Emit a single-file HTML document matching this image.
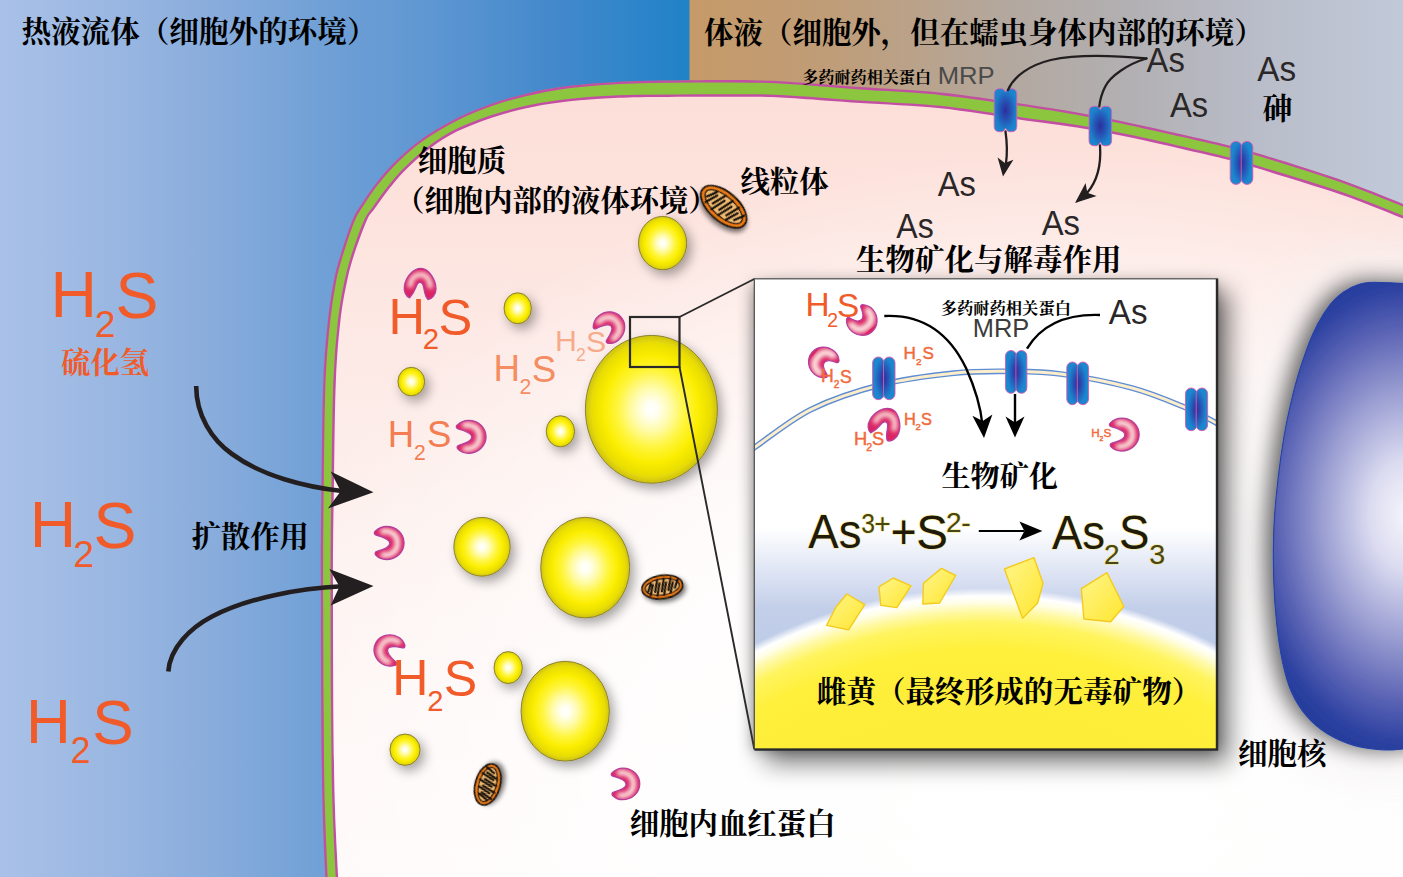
<!DOCTYPE html>
<html lang="zh-CN"><head><meta charset="utf-8"><title>生物矿化与解毒作用</title>
<style>
html,body{margin:0;padding:0;background:#fff;}
body{width:1403px;height:877px;overflow:hidden;}
svg{display:block}
.cjk text,text.cjk{font-family:"Liberation Serif","Noto Serif CJK SC",serif;font-weight:bold;}
.sans text,text.sans{font-family:"Liberation Sans",sans-serif;}
</style></head><body>
<svg width="1403" height="877" viewBox="0 0 1403 877">
<defs>
<linearGradient id="gL" x1="0" x2="1" y1="0" y2="0">
<stop offset="0" stop-color="#a9c1e8"/><stop offset="0.15" stop-color="#9bb8e2"/><stop offset="0.3" stop-color="#8aaddc"/><stop offset="0.47" stop-color="#70a0d6"/><stop offset="0.62" stop-color="#5f97d2"/><stop offset="0.8" stop-color="#4489cc"/><stop offset="1" stop-color="#2082c7"/>
</linearGradient>
<linearGradient id="gR" x1="0" x2="1" y1="0" y2="0">
<stop offset="0" stop-color="#c69a69"/><stop offset="0.2" stop-color="#bf9d78"/><stop offset="0.45" stop-color="#b3a89f"/><stop offset="0.62" stop-color="#b2b0b3"/><stop offset="0.8" stop-color="#b9bdc9"/><stop offset="1" stop-color="#c1c9d9"/>
</linearGradient>
<linearGradient id="gCell" x1="0" x2="0" y1="0" y2="1">
<stop offset="0" stop-color="#fddfd9"/><stop offset="0.12" stop-color="#fde2dc"/><stop offset="0.3" stop-color="#fde9e5"/><stop offset="0.5" stop-color="#fdefec"/><stop offset="0.75" stop-color="#fef5f3"/><stop offset="1" stop-color="#fffaf9"/>
</linearGradient>
<radialGradient id="gWhite" cx="0.68" cy="0.86" r="0.78">
<stop offset="0" stop-color="#fff" stop-opacity="1"/><stop offset="0.5" stop-color="#fff" stop-opacity="0.85"/><stop offset="0.8" stop-color="#fff" stop-opacity="0.35"/><stop offset="1" stop-color="#fff" stop-opacity="0"/>
</radialGradient>
<radialGradient id="gY" cx="0.5" cy="0.5" r="0.5">
<stop offset="0" stop-color="#ffffff"/><stop offset="0.1" stop-color="#fffff2"/><stop offset="0.3" stop-color="#fffba6"/><stop offset="0.52" stop-color="#fff53c"/><stop offset="0.72" stop-color="#fbee02"/><stop offset="0.9" stop-color="#e9dd06"/><stop offset="1" stop-color="#cdc114"/>
</radialGradient>
<radialGradient id="gCh" cx="0.5" cy="0.5" r="0.58">
<stop offset="0" stop-color="#2b2f9c"/><stop offset="0.4" stop-color="#2653b5"/><stop offset="0.8" stop-color="#1d80cb"/><stop offset="1" stop-color="#1b86cf"/>
</radialGradient>
<radialGradient id="gChL" cx="1" cy="0.5" r="0.5" gradientTransform="translate(1,0.5) scale(1.7,1) translate(-1,-0.5)">
<stop offset="0" stop-color="#3a2a96"/><stop offset="0.35" stop-color="#2847ae"/><stop offset="1" stop-color="#1c86cf"/>
</radialGradient>
<radialGradient id="gChR" cx="0" cy="0.5" r="0.5" gradientTransform="translate(0,0.5) scale(1.7,1) translate(0,-0.5)">
<stop offset="0" stop-color="#3a2a96"/><stop offset="0.35" stop-color="#2847ae"/><stop offset="1" stop-color="#1c86cf"/>
</radialGradient>
<radialGradient id="gCres2" cx="0.66" cy="0.5" r="0.56">
<stop offset="0" stop-color="#f7d6d2"/><stop offset="0.35" stop-color="#efa3aa"/><stop offset="0.75" stop-color="#e03c70"/><stop offset="1" stop-color="#d81e60"/>
</radialGradient>
<radialGradient id="gCres" cx="0.5" cy="0.36" r="0.58">
<stop offset="0" stop-color="#f7d0cc"/><stop offset="0.4" stop-color="#ee9aa3"/><stop offset="0.8" stop-color="#df346c"/><stop offset="1" stop-color="#d4215f"/>
</radialGradient>
<radialGradient id="gNuc" gradientUnits="userSpaceOnUse" cx="1408" cy="515" r="245" gradientTransform="translate(1408,515) scale(0.7,1) translate(-1408,-515)">
<stop offset="0" stop-color="#f6f6fc"/><stop offset="0.22" stop-color="#dcdcf1"/><stop offset="0.5" stop-color="#9b9fd2"/><stop offset="0.74" stop-color="#6068b7"/><stop offset="0.92" stop-color="#2f43a2"/><stop offset="1" stop-color="#253c9c"/>
</radialGradient>
<linearGradient id="gInset" x1="0" x2="0" y1="0" y2="1">
<stop offset="0" stop-color="#ffffff"/><stop offset="0.53" stop-color="#ffffff"/><stop offset="0.62" stop-color="#dfe5f4"/><stop offset="0.70" stop-color="#c3cfe9"/><stop offset="0.82" stop-color="#bccae8"/><stop offset="1" stop-color="#c8d4ec"/>
</linearGradient>
<radialGradient id="gDome" gradientUnits="userSpaceOnUse" cx="985" cy="1092" r="504">
<stop offset="0" stop-color="#fcea36"/><stop offset="0.72" stop-color="#fdec38"/><stop offset="0.88" stop-color="#fff03c"/><stop offset="0.93" stop-color="#fff45e"/><stop offset="0.955" stop-color="#fff9a8"/><stop offset="0.972" stop-color="#fffee8"/><stop offset="0.984" stop-color="#ffffff"/><stop offset="1" stop-color="#ffffff" stop-opacity="0"/>
</radialGradient>
<linearGradient id="gCry" x1="0" x2="1" y1="0" y2="1">
<stop offset="0" stop-color="#fff58a"/><stop offset="1" stop-color="#ffe630"/>
</linearGradient>
<filter id="shY" x="-100%" y="-100%" width="300%" height="300%">
<feGaussianBlur in="SourceAlpha" stdDeviation="6"/><feOffset dx="4" dy="5"/><feComponentTransfer><feFuncA type="linear" slope="0.36"/></feComponentTransfer><feMerge><feMergeNode/><feMergeNode in="SourceGraphic"/></feMerge>
</filter>
<filter id="shS" x="-100%" y="-100%" width="300%" height="300%">
<feGaussianBlur in="SourceAlpha" stdDeviation="2.5"/><feOffset dx="2" dy="3"/><feComponentTransfer><feFuncA type="linear" slope="0.55"/></feComponentTransfer><feMerge><feMergeNode/><feMergeNode in="SourceGraphic"/></feMerge>
</filter>
<filter id="glowBox" x="-10%" y="-10%" width="120%" height="120%"><feGaussianBlur stdDeviation="7"/></filter>
<filter id="shBox" x="-12%" y="-12%" width="140%" height="140%">
<feGaussianBlur in="SourceAlpha" stdDeviation="13"/><feOffset dx="11" dy="13"/><feComponentTransfer><feFuncA type="linear" slope="0.55"/></feComponentTransfer><feMerge><feMergeNode/><feMergeNode in="SourceGraphic"/></feMerge>
</filter>
<filter id="glowNuc" x="-80%" y="-30%" width="260%" height="160%"><feGaussianBlur stdDeviation="28"/></filter>
<filter id="shNuc" x="-40%" y="-20%" width="180%" height="140%">
<feGaussianBlur in="SourceAlpha" stdDeviation="11"/><feOffset dx="-7" dy="-1"/><feComponentTransfer><feFuncA type="linear" slope="0.62"/></feComponentTransfer><feMerge><feMergeNode/><feMergeNode in="SourceGraphic"/></feMerge>
</filter>

<filter id="blurC" x="-30%" y="-30%" width="160%" height="160%"><feGaussianBlur stdDeviation="2.1"/></filter>
<clipPath id="cpC1"><path d="M5.6,29.5 C2,28 -0.5,23 0.4,18 C1.5,9 9,0 17,0 C25,0 32,12 32,20.5 C32,26 28,31 24,31.2 C21.5,29 20.5,24 19.7,19 C19,15.5 17,14 15.8,14.1 C14,14.3 12.5,17 12,18.8 C11,21.5 9,26 5.6,29.5 Z"/></clipPath><clipPath id="cpC2"><path d="M2.4,8.5 C0.6,8 0.2,6 1.6,4.8 C4.8,1.8 8.8,0 13,0 C23,0 30.5,7.4 30.5,16.5 C30.5,25.6 22.6,33 12.6,33 C8.6,33 5,31.4 2.4,28.8 C1,27.4 1.4,25.4 3.2,25 C9,23.4 16.3,21.4 16.3,16.8 C16.3,12.4 9,10.2 2.4,8.5 Z"/></clipPath>
<g id="cres"><path d="M5.6,29.5 C2,28 -0.5,23 0.4,18 C1.5,9 9,0 17,0 C25,0 32,12 32,20.5 C32,26 28,31 24,31.2 C21.5,29 20.5,24 19.7,19 C19,15.5 17,14 15.8,14.1 C14,14.3 12.5,17 12,18.8 C11,21.5 9,26 5.6,29.5 Z" fill="#dc2464"/><g clip-path="url(#cpC1)"><path d="M6,19 C6.5,10 11,6.2 16.5,6.2 C22,6.2 26,10.5 26.5,20" stroke="#f9dcd8" stroke-width="5" fill="none" filter="url(#blurC)"/></g><path d="M5.6,29.5 C2,28 -0.5,23 0.4,18 C1.5,9 9,0 17,0 C25,0 32,12 32,20.5 C32,26 28,31 24,31.2 C21.5,29 20.5,24 19.7,19 C19,15.5 17,14 15.8,14.1 C14,14.3 12.5,17 12,18.8 C11,21.5 9,26 5.6,29.5 Z" fill="none" stroke="#b4409e" stroke-width="1.3"/></g>
<clipPath id="cpC3"><path d="M2.4,8.5 C0.6,8 0.2,6 1.6,4.8 C4.8,1.8 8.8,0 13,0 C23,0 30.5,7.4 30.5,16.5 C30.5,25.6 22.6,33 12.6,33 C8.6,33 5,31.4 2.4,28.8 C1,27.4 1.4,25.4 3.2,25 C8,23.6 13,21.2 13,16.8 C13,12.6 8,10.2 2.4,8.5 Z"/></clipPath><g id="cres3"><path d="M2.4,8.5 C0.6,8 0.2,6 1.6,4.8 C4.8,1.8 8.8,0 13,0 C23,0 30.5,7.4 30.5,16.5 C30.5,25.6 22.6,33 12.6,33 C8.6,33 5,31.4 2.4,28.8 C1,27.4 1.4,25.4 3.2,25 C8,23.6 13,21.2 13,16.8 C13,12.6 8,10.2 2.4,8.5 Z" fill="#dc2464"/><g clip-path="url(#cpC3)"><path d="M7,5.6 C10,4.4 12.5,4.4 15,5 C20,6.6 22.5,11 22.5,16.5 C22.5,22 20,26.6 15,28.2 C12.5,28.8 10,28.8 7.5,27.8" stroke="#fbe4e0" stroke-width="7.5" fill="none" filter="url(#blurC)"/></g><path d="M2.4,8.5 C0.6,8 0.2,6 1.6,4.8 C4.8,1.8 8.8,0 13,0 C23,0 30.5,7.4 30.5,16.5 C30.5,25.6 22.6,33 12.6,33 C8.6,33 5,31.4 2.4,28.8 C1,27.4 1.4,25.4 3.2,25 C8,23.6 13,21.2 13,16.8 C13,12.6 8,10.2 2.4,8.5 Z" fill="none" stroke="#b4409e" stroke-width="1.3"/></g>
<g id="cres2"><path d="M2.4,8.5 C0.6,8 0.2,6 1.6,4.8 C4.8,1.8 8.8,0 13,0 C23,0 30.5,7.4 30.5,16.5 C30.5,25.6 22.6,33 12.6,33 C8.6,33 5,31.4 2.4,28.8 C1,27.4 1.4,25.4 3.2,25 C9,23.4 16.3,21.4 16.3,16.8 C16.3,12.4 9,10.2 2.4,8.5 Z" fill="#dc2464"/><g clip-path="url(#cpC2)"><path d="M7,5.6 C10,4.4 12.5,4.4 15,5 C21,6.6 24,11 24,16.5 C24,22 21,26.6 15,28.2 C12.5,28.8 10,28.8 7.5,27.8" stroke="#fbe4e0" stroke-width="5.8" fill="none" filter="url(#blurC)"/></g><path d="M2.4,8.5 C0.6,8 0.2,6 1.6,4.8 C4.8,1.8 8.8,0 13,0 C23,0 30.5,7.4 30.5,16.5 C30.5,25.6 22.6,33 12.6,33 C8.6,33 5,31.4 2.4,28.8 C1,27.4 1.4,25.4 3.2,25 C9,23.4 16.3,21.4 16.3,16.8 C16.3,12.4 9,10.2 2.4,8.5 Z" fill="none" stroke="#b4409e" stroke-width="1.3"/></g>
<clipPath id="clipInset"><rect x="754.3" y="278.8" width="463.2" height="470.4"/></clipPath>
</defs>
<rect x="0" y="0" width="689.5" height="877" fill="url(#gL)"/><rect x="688" y="0" width="3" height="877" fill="#2082c7"/>
<rect x="689.5" y="0" width="713.5" height="877" fill="url(#gR)"/>
<clipPath id="cpOuter"><path d="M326.5,900.0 C326.3,896.2 326.1,897.5 325.3,877.0 C324.5,856.5 322.6,825.7 321.9,777.0 C321.1,728.3 320.9,634.5 320.8,585.0 C320.7,535.5 321.1,514.2 321.5,480.0 C321.9,445.8 322.2,406.7 323.3,380.0 C324.4,353.3 326.2,336.7 328.0,320.0 C329.8,303.3 331.8,291.3 334.0,280.0 C336.2,268.7 338.4,262.0 341.5,252.0 C344.6,242.0 349.2,227.8 352.5,220.0 C355.8,212.2 357.0,211.3 361.0,205.1 C365.0,198.9 370.4,190.4 376.4,182.9 C382.4,175.4 389.3,167.2 397.0,159.8 C404.7,152.4 412.6,145.3 422.6,138.4 C432.6,131.5 445.4,124.0 456.8,118.2 C468.2,112.5 479.6,108.0 491.0,103.9 C502.4,99.9 513.8,96.7 525.3,93.9 C536.8,91.1 547.5,88.9 560.0,87.1 C572.5,85.3 586.7,84.0 600.0,83.0 C613.3,82.0 623.3,81.4 640.0,80.9 C656.7,80.4 680.0,80.3 700.0,80.2 C720.0,80.1 743.3,80.0 760.0,80.4 C776.7,80.8 783.3,81.4 800.0,82.5 C816.7,83.6 836.7,85.4 860.0,87.1 C883.3,88.8 913.6,89.9 940.0,92.6 C966.4,95.3 995.5,99.9 1018.6,103.3 C1041.7,106.7 1059.9,109.5 1078.4,112.8 C1096.9,116.1 1112.6,119.4 1129.7,123.0 C1146.8,126.6 1164.5,130.6 1181.0,134.3 C1197.5,138.1 1215.8,142.2 1229.0,145.5 C1242.2,148.8 1241.5,148.3 1260.0,154.0 C1278.5,159.7 1316.2,171.2 1340.0,179.6 C1363.8,187.9 1386.3,197.4 1403.0,204.1 C1419.7,210.8 1433.8,217.3 1440.0,220.0 L1440,900 Z"/></clipPath>
<path d="M326.5,900.0 C326.3,896.2 326.1,897.5 325.3,877.0 C324.5,856.5 322.6,825.7 321.9,777.0 C321.1,728.3 320.9,634.5 320.8,585.0 C320.7,535.5 321.1,514.2 321.5,480.0 C321.9,445.8 322.2,406.7 323.3,380.0 C324.4,353.3 326.2,336.7 328.0,320.0 C329.8,303.3 331.8,291.3 334.0,280.0 C336.2,268.7 338.4,262.0 341.5,252.0 C344.6,242.0 349.2,227.8 352.5,220.0 C355.8,212.2 357.0,211.3 361.0,205.1 C365.0,198.9 370.4,190.4 376.4,182.9 C382.4,175.4 389.3,167.2 397.0,159.8 C404.7,152.4 412.6,145.3 422.6,138.4 C432.6,131.5 445.4,124.0 456.8,118.2 C468.2,112.5 479.6,108.0 491.0,103.9 C502.4,99.9 513.8,96.7 525.3,93.9 C536.8,91.1 547.5,88.9 560.0,87.1 C572.5,85.3 586.7,84.0 600.0,83.0 C613.3,82.0 623.3,81.4 640.0,80.9 C656.7,80.4 680.0,80.3 700.0,80.2 C720.0,80.1 743.3,80.0 760.0,80.4 C776.7,80.8 783.3,81.4 800.0,82.5 C816.7,83.6 836.7,85.4 860.0,87.1 C883.3,88.8 913.6,89.9 940.0,92.6 C966.4,95.3 995.5,99.9 1018.6,103.3 C1041.7,106.7 1059.9,109.5 1078.4,112.8 C1096.9,116.1 1112.6,119.4 1129.7,123.0 C1146.8,126.6 1164.5,130.6 1181.0,134.3 C1197.5,138.1 1215.8,142.2 1229.0,145.5 C1242.2,148.8 1241.5,148.3 1260.0,154.0 C1278.5,159.7 1316.2,171.2 1340.0,179.6 C1363.8,187.9 1386.3,197.4 1403.0,204.1 C1419.7,210.8 1433.8,217.3 1440.0,220.0 L1440,900 Z" fill="#8cc63f" stroke="#c24fa3" stroke-width="4.6" clip-path="url(#cpOuter)"/>
<path d="M339.5,900.0 C339.3,896.2 339.1,897.5 338.2,877.0 C337.3,856.5 335.1,825.7 334.2,777.0 C333.3,728.3 333.0,634.5 333.0,585.0 C333.0,535.5 333.5,514.2 334.0,480.0 C334.5,445.8 334.8,406.7 335.9,380.0 C337.0,353.3 338.6,336.7 340.5,320.0 C342.4,303.3 344.9,291.3 347.3,280.0 C349.7,268.7 351.7,262.0 355.0,252.0 C358.3,242.0 363.7,227.2 367.0,220.0 C370.3,212.8 371.1,213.7 374.7,208.6 C378.3,203.5 383.3,196.1 388.4,189.7 C393.5,183.3 398.6,176.8 405.5,170.0 C412.4,163.2 420.9,155.1 429.5,148.7 C438.1,142.3 446.6,136.7 456.8,131.6 C467.1,126.5 479.6,121.8 491.0,117.9 C502.4,114.1 513.8,111.1 525.3,108.5 C536.8,105.9 547.5,104.1 560.0,102.5 C572.5,100.9 586.7,99.7 600.0,98.8 C613.3,97.9 623.3,97.5 640.0,97.2 C656.7,96.9 680.0,96.9 700.0,96.8 C720.0,96.7 743.3,96.5 760.0,96.8 C776.7,97.1 783.3,97.8 800.0,98.8 C816.7,99.8 836.7,101.5 860.0,103.1 C883.3,104.7 913.6,105.5 940.0,108.2 C966.4,110.9 995.5,116.1 1018.6,119.4 C1041.7,122.7 1059.9,124.8 1078.4,127.8 C1096.9,130.8 1112.6,133.8 1129.7,137.3 C1146.8,140.8 1164.5,145.0 1181.0,148.8 C1197.5,152.6 1215.8,156.6 1229.0,160.0 C1242.2,163.4 1241.5,163.4 1260.0,169.1 C1278.5,174.8 1316.2,186.0 1340.0,194.2 C1363.8,202.4 1386.3,211.8 1403.0,218.5 C1419.7,225.2 1433.8,231.8 1440.0,234.4 L1440,900 Z" fill="none" stroke="#c24fa3" stroke-width="5"/>
<path d="M339.5,900.0 C339.3,896.2 339.1,897.5 338.2,877.0 C337.3,856.5 335.1,825.7 334.2,777.0 C333.3,728.3 333.0,634.5 333.0,585.0 C333.0,535.5 333.5,514.2 334.0,480.0 C334.5,445.8 334.8,406.7 335.9,380.0 C337.0,353.3 338.6,336.7 340.5,320.0 C342.4,303.3 344.9,291.3 347.3,280.0 C349.7,268.7 351.7,262.0 355.0,252.0 C358.3,242.0 363.7,227.2 367.0,220.0 C370.3,212.8 371.1,213.7 374.7,208.6 C378.3,203.5 383.3,196.1 388.4,189.7 C393.5,183.3 398.6,176.8 405.5,170.0 C412.4,163.2 420.9,155.1 429.5,148.7 C438.1,142.3 446.6,136.7 456.8,131.6 C467.1,126.5 479.6,121.8 491.0,117.9 C502.4,114.1 513.8,111.1 525.3,108.5 C536.8,105.9 547.5,104.1 560.0,102.5 C572.5,100.9 586.7,99.7 600.0,98.8 C613.3,97.9 623.3,97.5 640.0,97.2 C656.7,96.9 680.0,96.9 700.0,96.8 C720.0,96.7 743.3,96.5 760.0,96.8 C776.7,97.1 783.3,97.8 800.0,98.8 C816.7,99.8 836.7,101.5 860.0,103.1 C883.3,104.7 913.6,105.5 940.0,108.2 C966.4,110.9 995.5,116.1 1018.6,119.4 C1041.7,122.7 1059.9,124.8 1078.4,127.8 C1096.9,130.8 1112.6,133.8 1129.7,137.3 C1146.8,140.8 1164.5,145.0 1181.0,148.8 C1197.5,152.6 1215.8,156.6 1229.0,160.0 C1242.2,163.4 1241.5,163.4 1260.0,169.1 C1278.5,174.8 1316.2,186.0 1340.0,194.2 C1363.8,202.4 1386.3,211.8 1403.0,218.5 C1419.7,225.2 1433.8,231.8 1440.0,234.4 L1440,900 Z" fill="url(#gCell)"/>
<clipPath id="cpInner"><path d="M339.5,900.0 C339.3,896.2 339.1,897.5 338.2,877.0 C337.3,856.5 335.1,825.7 334.2,777.0 C333.3,728.3 333.0,634.5 333.0,585.0 C333.0,535.5 333.5,514.2 334.0,480.0 C334.5,445.8 334.8,406.7 335.9,380.0 C337.0,353.3 338.6,336.7 340.5,320.0 C342.4,303.3 344.9,291.3 347.3,280.0 C349.7,268.7 351.7,262.0 355.0,252.0 C358.3,242.0 363.7,227.2 367.0,220.0 C370.3,212.8 371.1,213.7 374.7,208.6 C378.3,203.5 383.3,196.1 388.4,189.7 C393.5,183.3 398.6,176.8 405.5,170.0 C412.4,163.2 420.9,155.1 429.5,148.7 C438.1,142.3 446.6,136.7 456.8,131.6 C467.1,126.5 479.6,121.8 491.0,117.9 C502.4,114.1 513.8,111.1 525.3,108.5 C536.8,105.9 547.5,104.1 560.0,102.5 C572.5,100.9 586.7,99.7 600.0,98.8 C613.3,97.9 623.3,97.5 640.0,97.2 C656.7,96.9 680.0,96.9 700.0,96.8 C720.0,96.7 743.3,96.5 760.0,96.8 C776.7,97.1 783.3,97.8 800.0,98.8 C816.7,99.8 836.7,101.5 860.0,103.1 C883.3,104.7 913.6,105.5 940.0,108.2 C966.4,110.9 995.5,116.1 1018.6,119.4 C1041.7,122.7 1059.9,124.8 1078.4,127.8 C1096.9,130.8 1112.6,133.8 1129.7,137.3 C1146.8,140.8 1164.5,145.0 1181.0,148.8 C1197.5,152.6 1215.8,156.6 1229.0,160.0 C1242.2,163.4 1241.5,163.4 1260.0,169.1 C1278.5,174.8 1316.2,186.0 1340.0,194.2 C1363.8,202.4 1386.3,211.8 1403.0,218.5 C1419.7,225.2 1433.8,231.8 1440.0,234.4 L1440,900 Z"/></clipPath>
<g clip-path="url(#cpInner)"><rect x="330" y="80" width="1080" height="800" fill="url(#gWhite)"/></g>
<g clip-path="url(#cpInner)"><path d="M1445.0,285.0 C1438.0,284.7 1415.7,283.7 1403.0,283.3 C1390.3,282.9 1377.3,281.8 1368.6,282.5 C1359.9,283.2 1356.2,285.2 1350.8,287.8 C1345.4,290.4 1340.5,294.0 1336.0,298.2 C1331.5,302.4 1328.0,306.8 1324.1,313.0 C1320.1,319.2 1316.2,326.1 1312.3,335.2 C1308.3,344.3 1303.9,356.9 1300.4,367.8 C1296.9,378.7 1294.2,389.0 1291.5,400.4 C1288.8,411.8 1286.3,423.1 1284.1,436.0 C1281.9,448.9 1279.9,462.7 1278.2,477.5 C1276.5,492.3 1274.8,508.0 1274.0,525.0 C1273.2,542.0 1273.2,562.8 1273.7,579.3 C1274.2,595.8 1275.2,610.0 1276.7,623.8 C1278.2,637.6 1280.1,650.9 1282.6,662.3 C1285.1,673.7 1287.5,683.1 1291.5,692.0 C1295.5,700.9 1300.4,708.8 1306.3,715.7 C1312.2,722.6 1319.1,728.6 1327.0,733.5 C1334.9,738.4 1344.4,742.6 1353.8,745.3 C1363.2,748.0 1375.2,749.2 1383.4,749.8 C1391.6,750.4 1392.7,749.9 1403.0,748.9 C1413.3,747.9 1438.0,744.8 1445.0,744.0 Z" fill="#f4f2f2" stroke="#f4f2f2" stroke-width="50" filter="url(#glowNuc)" opacity="0.9"/></g>
<g clip-path="url(#cpInner)"><path d="M1445.0,285.0 C1438.0,284.7 1415.7,283.7 1403.0,283.3 C1390.3,282.9 1377.3,281.8 1368.6,282.5 C1359.9,283.2 1356.2,285.2 1350.8,287.8 C1345.4,290.4 1340.5,294.0 1336.0,298.2 C1331.5,302.4 1328.0,306.8 1324.1,313.0 C1320.1,319.2 1316.2,326.1 1312.3,335.2 C1308.3,344.3 1303.9,356.9 1300.4,367.8 C1296.9,378.7 1294.2,389.0 1291.5,400.4 C1288.8,411.8 1286.3,423.1 1284.1,436.0 C1281.9,448.9 1279.9,462.7 1278.2,477.5 C1276.5,492.3 1274.8,508.0 1274.0,525.0 C1273.2,542.0 1273.2,562.8 1273.7,579.3 C1274.2,595.8 1275.2,610.0 1276.7,623.8 C1278.2,637.6 1280.1,650.9 1282.6,662.3 C1285.1,673.7 1287.5,683.1 1291.5,692.0 C1295.5,700.9 1300.4,708.8 1306.3,715.7 C1312.2,722.6 1319.1,728.6 1327.0,733.5 C1334.9,738.4 1344.4,742.6 1353.8,745.3 C1363.2,748.0 1375.2,749.2 1383.4,749.8 C1391.6,750.4 1392.7,749.9 1403.0,748.9 C1413.3,747.9 1438.0,744.8 1445.0,744.0 Z" fill="url(#gNuc)" stroke="#2743a3" stroke-width="1.2" filter="url(#shNuc)"/></g>
<ellipse cx="662.6" cy="243.1" rx="24.1" ry="26.7" fill="url(#gY)" stroke="#857a2a" stroke-width="0.9" filter="url(#shY)"/>
<ellipse cx="517.7" cy="308.3" rx="13.7" ry="15.5" fill="url(#gY)" stroke="#857a2a" stroke-width="0.9" filter="url(#shY)"/>
<ellipse cx="411.3" cy="381.6" rx="13.4" ry="14.3" fill="url(#gY)" stroke="#857a2a" stroke-width="0.9" filter="url(#shY)"/>
<ellipse cx="560.4" cy="431.3" rx="14.2" ry="15.6" fill="url(#gY)" stroke="#857a2a" stroke-width="0.9" filter="url(#shY)"/>
<ellipse cx="651.4" cy="409.3" rx="66" ry="73.9" fill="url(#gY)" stroke="#857a2a" stroke-width="0.9" filter="url(#shY)"/>
<ellipse cx="482" cy="546.8" rx="28.2" ry="29.4" fill="url(#gY)" stroke="#857a2a" stroke-width="0.9" filter="url(#shY)"/>
<ellipse cx="585.2" cy="567.6" rx="44.5" ry="50.3" fill="url(#gY)" stroke="#857a2a" stroke-width="0.9" filter="url(#shY)"/>
<ellipse cx="508.2" cy="667.6" rx="14.2" ry="16" fill="url(#gY)" stroke="#857a2a" stroke-width="0.9" filter="url(#shY)"/>
<ellipse cx="565.2" cy="711.2" rx="44.2" ry="49.9" fill="url(#gY)" stroke="#857a2a" stroke-width="0.9" filter="url(#shY)"/>
<ellipse cx="405" cy="749.7" rx="15.1" ry="15.7" fill="url(#gY)" stroke="#857a2a" stroke-width="0.9" filter="url(#shY)"/>
<use href="#cres" transform="translate(420.0,284.3) rotate(0) scale(1.0) translate(-16,-16)"/>
<use href="#cres2" transform="translate(610.2,326.6) rotate(-40) scale(0.95) translate(-15.25,-16.5)"/>
<use href="#cres2" transform="translate(470.8,436.8) rotate(0) scale(1.0) translate(-15.25,-16.5)"/>
<use href="#cres2" transform="translate(388.8,543.0) rotate(0) scale(1.0) translate(-15.25,-16.5)"/>
<use href="#cres2" transform="translate(388.6,649.6) rotate(-152) scale(0.95) translate(-15.25,-16.5)"/>
<use href="#cres2" transform="translate(625.1,783.9) rotate(0) scale(0.96) translate(-15.25,-16.5)"/>
<g transform="translate(723.7,206.7) rotate(41)" filter="url(#shS)"><ellipse rx="27.5" ry="14.5" fill="#e97a17" stroke="#1a120c" stroke-width="1.8"/><ellipse rx="23.1" ry="10.1" fill="#f0ba72" stroke="#1a120c" stroke-width="1.4"/><path d="M-14.8,-6.4 L-19.3,3.2 M-16.7,8.2 L-12.2,-4.1 M-5.8,-9.3 L-10.3,4.7 M-7.7,10.0 L-3.2,-5.0 M3.2,-10.1 L-1.3,5.1 M1.3,10.0 L5.8,-5.0 M12.2,-9.3 L7.7,4.7 M10.3,8.2 L14.8,-4.1 M21.2,-6.4 L16.7,3.2 " stroke="#1a120c" stroke-width="2.57" fill="none" stroke-linecap="round"/></g>
<g transform="translate(662.3,587) rotate(-8)" filter="url(#shS)"><ellipse rx="20.5" ry="11.6" fill="#e97a17" stroke="#1a120c" stroke-width="1.7"/><ellipse rx="17.2" ry="8.1" fill="#f0ba72" stroke="#1a120c" stroke-width="1.3"/><path d="M-10.9,-5.1 L-14.5,2.5 M-12.6,6.6 L-9.1,-3.3 M-4.2,-7.5 L-7.7,3.7 M-5.9,8.0 L-2.3,-4.0 M2.6,-8.1 L-1.0,4.1 M0.8,8.0 L4.4,-4.0 M9.3,-7.5 L5.7,3.7 M7.5,6.6 L11.1,-3.3 M16.0,-5.1 L12.4,2.5 " stroke="#1a120c" stroke-width="2.37" fill="none" stroke-linecap="round"/></g>
<g transform="translate(487.7,784.5) rotate(-74)" filter="url(#shS)"><ellipse rx="21" ry="12.3" fill="#e97a17" stroke="#1a120c" stroke-width="1.7"/><ellipse rx="17.6" ry="8.6" fill="#f0ba72" stroke="#1a120c" stroke-width="1.3"/><path d="M-11.1,-5.4 L-14.8,2.7 M-13.0,7.0 L-9.2,-3.5 M-4.2,-7.9 L-8.0,4.0 M-6.1,8.4 L-2.4,-4.2 M2.7,-8.6 L-1.1,4.3 M0.7,8.4 L4.5,-4.2 M9.6,-7.9 L5.8,4.0 M7.6,7.0 L11.4,-3.5 M16.5,-5.4 L12.7,2.7 " stroke="#1a120c" stroke-width="2.43" fill="none" stroke-linecap="round"/></g>
<path d="M999.7,88.7 L1001.6,88.7 Q1003.9,88.7 1005.5,92.1 Q1007.1,88.7 1009.4,88.7 L1011.3,88.7 Q1016.8,88.7 1016.8,94.2 L1016.8,126.2 Q1016.8,131.7 1011.3,131.7 L1009.4,131.7 Q1007.1,131.7 1005.5,128.3 Q1003.9,131.7 1001.6,131.7 L999.7,131.7 Q994.2,131.7 994.2,126.2 L994.2,94.2 Q994.2,88.7 999.7,88.7 Z" fill="url(#gCh)" stroke="#d860b4" stroke-width="0.9"/>
<path d="M1094.5,106.3 L1096.4,106.3 Q1098.7,106.3 1100.3,109.7 Q1101.9,106.3 1104.2,106.3 L1106.1,106.3 Q1111.6,106.3 1111.6,111.8 L1111.6,140.3 Q1111.6,145.8 1106.1,145.8 L1104.2,145.8 Q1101.9,145.8 1100.3,142.4 Q1098.7,145.8 1096.4,145.8 L1094.5,145.8 Q1089.0,145.8 1089.0,140.3 L1089.0,111.8 Q1089.0,106.3 1094.5,106.3 Z" fill="url(#gCh)" stroke="#d860b4" stroke-width="0.9"/>
<g stroke="#d85ab0" stroke-width="0.9"><rect x="1230.2" y="141.4" width="11.6" height="43.0" rx="5.8" fill="url(#gChL)"/><rect x="1241.2" y="141.4" width="11.6" height="43.0" rx="5.8" fill="url(#gChR)"/></g>
<g fill="none" stroke="#231f20" stroke-width="2.3" stroke-linecap="round">
<path d="M1146.4,58.5 C1110,55 1075,54.5 1050.8,60 C1030,65 1014,76 1008,90"/>
<path d="M1146.4,58.5 C1128,64 1110,76 1105,87 C1101.5,94 1100,100 1099.3,106.4"/>
<path d="M1005.5,131.5 C1007,142 1007.5,152 1006,163"/>
<path d="M1100,145.5 C1101,160 1100,178 1087,193"/>
</g>
<polygon points="1003.0,176.5 997.6,157.6 1004.9,163.1 1013.4,159.8" fill="#231f20"/>
<polygon points="1075.0,203.0 1085.6,183.0 1087.3,192.7 1096.6,196.0" fill="#231f20"/>
<g fill="none" stroke="#231f20" stroke-width="4.6" stroke-linecap="butt">
<path d="M196.2,386 C196,415 212,440 232,454 C262,476 305,487 342,491"/>
<path d="M168.3,671.5 C170,648 190,628 212,616.5 C250,597 300,588.5 342,586.3"/>
</g>
<polygon points="373.5,492.2 330.7,471.4 340.7,491.3 327.9,508.4" fill="#231f20"/>
<polygon points="373.5,586 329.3,568.9 339.5,586.5 330.7,605.4" fill="#231f20"/>
<rect x="630" y="317" width="49.5" height="50" fill="none" stroke="#2a2a2a" stroke-width="2.2"/>
<path d="M679.5,317 L754.3,279 M679.5,367 L754.3,749" stroke="#2a2a2a" stroke-width="1.9" fill="none"/>
<rect x="752" y="284" width="465" height="466" fill="#555" opacity="0.5" filter="url(#glowBox)"/>
<rect x="754.3" y="278.8" width="463.2" height="470.4" fill="#fff" filter="url(#shBox)"/>
<g clip-path="url(#clipInset)">
<rect x="754.3" y="278.8" width="463.2" height="470.4" fill="url(#gInset)"/>
<circle cx="985" cy="1092" r="504" fill="url(#gDome)"/>
<path d="M740.0,456.0 C742.4,454.6 742.4,455.3 754.3,447.5 C766.2,439.7 789.9,419.8 811.3,409.3 C832.7,398.8 858.9,390.4 882.6,384.4 C906.4,378.4 933.0,375.4 953.8,373.2 C974.6,371.0 989.5,371.3 1007.3,371.4 C1025.1,371.5 1039.9,371.2 1060.7,374.0 C1081.5,376.8 1111.2,382.4 1132.0,388.0 C1152.8,393.6 1171.2,401.7 1185.5,407.6 C1199.8,413.5 1209.8,419.7 1217.5,423.6 C1225.2,427.5 1229.6,429.8 1232.0,431.0" fill="none" stroke="#5f8dd4" stroke-width="5.8"/>
<path d="M740.0,456.0 C742.4,454.6 742.4,455.3 754.3,447.5 C766.2,439.7 789.9,419.8 811.3,409.3 C832.7,398.8 858.9,390.4 882.6,384.4 C906.4,378.4 933.0,375.4 953.8,373.2 C974.6,371.0 989.5,371.3 1007.3,371.4 C1025.1,371.5 1039.9,371.2 1060.7,374.0 C1081.5,376.8 1111.2,382.4 1132.0,388.0 C1152.8,393.6 1171.2,401.7 1185.5,407.6 C1199.8,413.5 1209.8,419.7 1217.5,423.6 C1225.2,427.5 1229.6,429.8 1232.0,431.0" fill="none" stroke="#fdeecb" stroke-width="3.0"/>
<polygon points="846.9,594.0 864.7,604.7 848.7,629.7 826.6,625.4 836.0,607.0" fill="url(#gCry)" stroke="#f4cb1c" stroke-width="1.4" stroke-linejoin="round"/>
<polygon points="893.2,578.0 911.0,585.8 896.8,607.6 880.8,605.4 879.0,586.9" fill="url(#gCry)" stroke="#f4cb1c" stroke-width="1.4" stroke-linejoin="round"/>
<polygon points="941.4,568.4 955.6,575.5 939.6,603.0 922.8,604.0 923.5,583.3" fill="url(#gCry)" stroke="#f4cb1c" stroke-width="1.4" stroke-linejoin="round"/>
<polygon points="1034.0,557.7 1043.0,583.3 1037.6,603.0 1022.6,618.3 1004.4,569.0" fill="url(#gCry)" stroke="#f4cb1c" stroke-width="1.4" stroke-linejoin="round"/>
<polygon points="1107.0,572.7 1123.8,606.5 1110.6,621.8 1083.9,619.0 1081.4,588.7" fill="url(#gCry)" stroke="#f4cb1c" stroke-width="1.4" stroke-linejoin="round"/>
</g>
<rect x="754.3" y="278.8" width="463.2" height="470.4" fill="none" stroke="#4a4a4a" stroke-width="1.2"/>
<path d="M1217,279 L1217,749.6 L754.5,749.6" fill="none" stroke="#2a2a2a" stroke-width="2.4"/>
<g stroke="#d85ab0" stroke-width="0.9"><rect x="872.6" y="357.0" width="11.5" height="42.7" rx="5.8" fill="url(#gChL)"/><rect x="883.5" y="357.0" width="11.5" height="42.7" rx="5.8" fill="url(#gChR)"/></g>
<g stroke="#d85ab0" stroke-width="0.9"><rect x="1005.5" y="350.5" width="11.0" height="42.8" rx="5.5" fill="url(#gChL)"/><rect x="1015.9" y="350.5" width="11.0" height="42.8" rx="5.5" fill="url(#gChR)"/></g>
<g stroke="#d85ab0" stroke-width="0.9"><rect x="1066.8" y="362.0" width="11.2" height="42.7" rx="5.6" fill="url(#gChL)"/><rect x="1077.3" y="362.0" width="11.2" height="42.7" rx="5.6" fill="url(#gChR)"/></g>
<g stroke="#d85ab0" stroke-width="0.9"><rect x="1185.5" y="388.0" width="11.4" height="42.7" rx="5.7" fill="url(#gChL)"/><rect x="1196.2" y="388.0" width="11.4" height="42.7" rx="5.7" fill="url(#gChR)"/></g>
<use href="#cres3" transform="translate(862.8,321.2) rotate(50) scale(0.92) translate(-15.25,-16.5)"/>
<use href="#cres3" transform="translate(822.7,361.3) rotate(-140) scale(0.92) translate(-15.25,-16.5)"/>
<use href="#cres" transform="translate(885.1,423.7) rotate(20) scale(1.0) translate(-16,-16)"/>
<use href="#cres2" transform="translate(1123.9,434.6) rotate(0) scale(1.0) translate(-15.25,-16.5)"/>
<g fill="none" stroke="#000" stroke-width="2.4" stroke-linecap="butt">
<path d="M884.3,316 C925,314 950,335 966,368 C976,390 981,410 982.5,425"/>
<path d="M1015,394 L1015,424"/>
<path d="M1100,315 C1070,314 1043,322 1027,348.7"/>
</g>
<polygon points="984.0,438.0 972.4,415.8 982.8,421.0 992.4,414.4" fill="#000"/>
<polygon points="1015.0,437.5 1005.5,416.5 1015.0,422.5 1024.5,416.5" fill="#000"/>
<path d="M978.8,531 L1024,531" stroke="#000" stroke-width="2.2" fill="none"/>
<polygon points="1042.4,531.0 1019.4,540.5 1024.4,531.0 1019.4,521.5" fill="#000"/>
<g class="cjk">
<text x="21.4" y="42.1" font-size="29.60" fill="#000">热液流体（细胞外的环境）</text>
<text x="704.1" y="42.5" font-size="29.46" fill="#000">体液（细胞外，但在蠕虫身体内部的环境）</text>
<text x="417.7" y="170.8" font-size="29.48" fill="#000">细胞质</text>
<text x="395.2" y="211.1" font-size="29.32" fill="#000">（细胞内部的液体环境）</text>
<text x="740.4" y="192.0" font-size="29.49" fill="#000">线粒体</text>
<text x="856.1" y="269.6" font-size="29.51" fill="#000">生物矿化与解毒作用</text>
<text x="802.2" y="83.1" font-size="16.12" fill="#000">多药耐药相关蛋白</text>
<text x="1262.4" y="119.3" font-size="30.00" fill="#000">砷</text>
<text x="61.1" y="372.8" font-size="29.35" fill="#f15a29">硫化氢</text>
<text x="191.5" y="547.2" font-size="29.33" fill="#000">扩散作用</text>
<text x="940.7" y="313.7" font-size="16.29" fill="#000">多药耐药相关蛋白</text>
<text x="941.5" y="486.9" font-size="29.14" fill="#000">生物矿化</text>
<text x="816.8" y="701.8" font-size="29.59" fill="#000">雌黄（最终形成的无毒矿物）</text>
<text x="1238.0" y="763.8" font-size="29.49" fill="#000">细胞核</text>
<text x="629.8" y="834.4" font-size="29.40" fill="#000">细胞内血红蛋白</text>
</g>
<g class="sans">
<g fill="#f15a29"><text x="50.5" y="317.0" font-size="64.3">H</text><text x="94.7" y="337.0" font-size="37.3">2</text><text x="115.5" y="317.6" font-size="64.3">S</text></g>
<g fill="#f15a29"><text x="29.7" y="547.0" font-size="64.3">H</text><text x="73.3" y="566.9" font-size="37.3">2</text><text x="93.5" y="547.6" font-size="64.3">S</text></g>
<g fill="#f15a29"><text x="26.0" y="743.0" font-size="62.1">H</text><text x="70.4" y="763.4" font-size="36.0">2</text><text x="92.2" y="743.6" font-size="62.1">S</text></g>
<g fill="#f15a29"><text x="388.4" y="334.0" font-size="50.6">H</text><text x="422.7" y="349.0" font-size="29.3">2</text><text x="438.6" y="334.5" font-size="50.6">S</text></g>
<g fill="#f58d62"><text x="493.6" y="381.4" font-size="36.7">H</text><text x="519.4" y="394.3" font-size="21.3">2</text><text x="531.8" y="381.8" font-size="36.7">S</text></g>
<g fill="#f7ab8b"><text x="555.1" y="351.2" font-size="30.3">H</text><text x="576.1" y="361.3" font-size="17.6">2</text><text x="586.1" y="351.5" font-size="30.3">S</text></g>
<g fill="#f47e53"><text x="387.8" y="447.0" font-size="36.6">H</text><text x="414.1" y="459.9" font-size="21.2">2</text><text x="427.1" y="447.4" font-size="36.6">S</text></g>
<g fill="#f15a29"><text x="392.2" y="695.0" font-size="50.1">H</text><text x="427.2" y="711.2" font-size="29.1">2</text><text x="443.8" y="695.5" font-size="50.1">S</text></g>
<g fill="#f15a29"><text x="805.4" y="316.4" font-size="33.4">H</text><text x="827.3" y="326.6" font-size="19.4">2</text><text x="837.0" y="316.7" font-size="33.4">S</text></g>
<g fill="#f26a3c" stroke="#f26a3c" stroke-width="0.45"><text x="821.0" y="382.3" font-size="17.6">H</text><text x="833.7" y="388.0" font-size="10.2">2</text><text x="840.0" y="382.5" font-size="17.6">S</text></g>
<g fill="#f26a3c" stroke="#f26a3c" stroke-width="0.45"><text x="903.6" y="359.1" font-size="17.1">H</text><text x="916.1" y="365.4" font-size="9.9">2</text><text x="922.4" y="359.3" font-size="17.1">S</text></g>
<g fill="#f26a3c" stroke="#f26a3c" stroke-width="0.45"><text x="904.1" y="424.9" font-size="16.4">H</text><text x="915.5" y="430.1" font-size="9.5">2</text><text x="920.9" y="425.1" font-size="16.4">S</text></g>
<g fill="#f26a3c" stroke="#f26a3c" stroke-width="0.45"><text x="853.9" y="444.6" font-size="18.3">H</text><text x="866.2" y="450.6" font-size="10.6">2</text><text x="871.9" y="444.8" font-size="18.3">S</text></g>
<g fill="#f26a3c" stroke="#f26a3c" stroke-width="0.45"><text x="1091.3" y="436.9" font-size="11.7">H</text><text x="1099.6" y="440.6" font-size="6.8">2</text><text x="1103.6" y="437.0" font-size="11.7">S</text></g>
<text transform="translate(1146.6,72.3) scale(0.936,1)" x="-0.0" y="0" font-size="35.00" fill="#2b2728">As</text>
<text transform="translate(1170.0,116.8) scale(0.933,1)" x="-0.0" y="0" font-size="35.00" fill="#2b2728">As</text>
<text transform="translate(1257.3,80.9) scale(0.951,1)" x="-0.0" y="0" font-size="35.00" fill="#2b2728">As</text>
<text transform="translate(937.7,196.2) scale(0.936,1)" x="-0.0" y="0" font-size="35.00" fill="#2b2728">As</text>
<text transform="translate(896.3,238.0) scale(0.915,1)" x="-0.0" y="0" font-size="35.00" fill="#2b2728">As</text>
<text transform="translate(1041.7,235.3) scale(0.938,1)" x="-0.0" y="0" font-size="35.00" fill="#2b2728">As</text>
<text transform="translate(1108.8,323.8) scale(0.948,1)" x="-0.0" y="0" font-size="35.00" fill="#2b2728">As</text>
<text transform="translate(939.7,84.4) scale(1.091,1)" x="-1.9" y="0" font-size="23.50" fill="#4a4a4a">MRP</text>
<text transform="translate(974.8,336.6) scale(1.018,1)" x="-2.0" y="0" font-size="25.00" fill="#3c3c3c">MRP</text>
<g stroke="#f3e25a" stroke-width="1.6" stroke-opacity="0.55" paint-order="stroke" stroke-linejoin="round">
<text transform="translate(808.3,548.2) scale(0.958,1)" x="-0.0" y="0" font-size="47.50" fill="#1f1a0a">As</text>
<text transform="translate(862.2,532.6) scale(0.897,1)" x="-1.1" y="0" font-size="27.50" fill="#4a4514">3</text>
<text transform="translate(875.7,532.6) scale(1.023,1)" x="-1.4" y="0" font-size="27.50" fill="#4a4514">+</text>
<text transform="translate(893.0,548.2) scale(0.930,1)" x="-2.4" y="0" font-size="47.50" fill="#1f1a0a">+</text>
<text x="916.3" y="548.7" font-size="47.50" fill="#1f1a0a">S</text>
<text transform="translate(947.5,532.2) scale(1.020,1)" x="-1.4" y="0" font-size="27.50" fill="#4a4514">2</text>
<text transform="translate(962.3,532.2) scale(1.033,1)" x="-1.1" y="0" font-size="27.50" fill="#4a4514">-</text>
<text transform="translate(1052.0,548.5) scale(0.958,1)" x="-0.0" y="0" font-size="47.50" fill="#1f1a0a">As</text>
<text x="1104.0" y="563.9" font-size="28.00" fill="#4a4514">2</text>
<text transform="translate(1121.3,549.0) scale(0.960,1)" x="-2.4" y="0" font-size="47.50" fill="#1f1a0a">S</text>
<text transform="translate(1150.3,564.2) scale(1.026,1)" x="-1.1" y="0" font-size="28.00" fill="#4a4514">3</text>
</g>
</g>
</svg></body></html>
